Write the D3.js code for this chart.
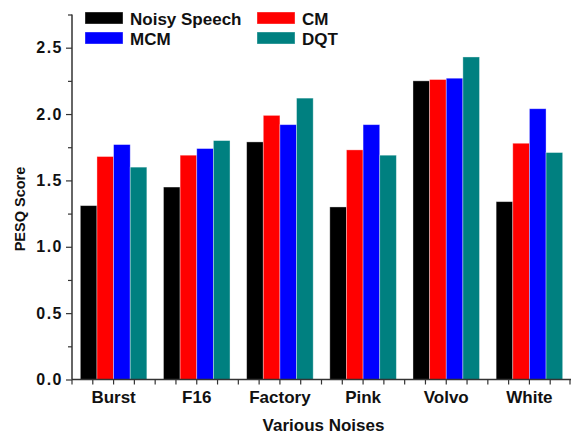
<!DOCTYPE html>
<html>
<head>
<meta charset="utf-8">
<script src="https://cdn.jsdelivr.net/npm/d3@7"></script>
<style>
  body { margin: 0; background: #fff; }
  svg { display: block; font-family: "Liberation Sans", Arial, sans-serif; font-weight: bold; }
</style>
</head>
<body>
<svg id="chart" width="571" height="434"></svg>
<script>
const categories = ["Burst", "F16", "Factory", "Pink", "Volvo", "White"];
const seriesNames = ["Noisy Speech", "CM", "MCM", "DQT"];
const noisySpeech = [1.31, 1.45, 1.79, 1.30, 2.25, 1.34];
const cm          = [1.68, 1.69, 1.99, 1.73, 2.26, 1.78];
const mcm         = [1.77, 1.74, 1.92, 1.92, 2.27, 2.04];
const dqt         = [1.60, 1.80, 2.12, 1.69, 2.43, 1.71];
const yTicks = [0.0, 0.5, 1.0, 1.5, 2.0, 2.5];
const colors = ["#000000", "#ff0000", "#0000ff", "#008080"];

const seriesValues = [noisySpeech, cm, mcm, dqt];

const svg = d3.select("#chart");
const mLeft = 72, mRight = 571, mTop = 14.5, mBottom = 379.5;

const x = d3.scaleBand().domain(categories).range([mLeft, mRight]).paddingInner(0).paddingOuter(0);
const groupW = x.bandwidth() * 0.8;
const xs = d3.scaleBand().domain(seriesNames).range([0, groupW]).padding(0);
const y = d3.scaleLinear().domain([0, 2.75]).range([mBottom, mTop]);

// bars
seriesNames.forEach((s, si) => {
  svg.append("g").selectAll("rect")
    .data(categories.map((c, i) => ({c, v: seriesValues[si][i]})))
    .join("rect")
    .attr("x", d => x(d.c) + (x.bandwidth() - groupW) / 2 + xs(s))
    .attr("y", d => y(d.v))
    .attr("width", xs.bandwidth())
    .attr("height", d => y(0) - y(d.v))
    .attr("fill", colors[si])
    .attr("stroke", "rgba(255,255,255,0.45)")
    .attr("stroke-width", 0.8);
});

const axisColor = "#333";

// y axis
const yAxis = svg.append("g").attr("transform", `translate(${mLeft},0)`)
  .call(d3.axisLeft(y).tickValues(yTicks).tickFormat(d3.format(".1f")).tickSize(6).tickPadding(3));
const yMinor = svg.append("g").attr("transform", `translate(${mLeft},0)`)
  .call(d3.axisLeft(y).tickValues([0.25, 0.75, 1.25, 1.75, 2.25, 2.75]).tickFormat("").tickSize(4));
[yAxis, yMinor].forEach(g => {
  g.select(".domain").attr("stroke", axisColor).attr("stroke-width", 1.5);
  g.selectAll(".tick line").attr("stroke", axisColor).attr("stroke-width", 1.2);
});
yMinor.select(".domain").remove();
yAxis.selectAll(".tick text").attr("font-size", 16).attr("font-weight", "bold")
  .attr("letter-spacing", "1.5px")
  .attr("font-family", "Liberation Sans, Arial, sans-serif").attr("fill", "#111");
yAxis.select(".domain").attr("d", `M0,${mTop}V${mBottom}`);

// x axis
const xAxis = svg.append("g").attr("transform", `translate(0,${mBottom})`)
  .call(d3.axisBottom(x).tickSize(5).tickPadding(6));
xAxis.selectAll(".tick line").remove();
xAxis.select(".domain").attr("d", `M${mLeft},0H${mRight}`).attr("stroke", axisColor).attr("stroke-width", 1.5);
xAxis.selectAll(".tick text").attr("font-size", 17).attr("font-weight", "bold")
  .attr("font-family", "Liberation Sans, Arial, sans-serif").attr("fill", "#111");

// x ticks at quarter band positions
const tickPos = [];
categories.forEach(c => {
  for (let k = 0; k < 4; k++) tickPos.push(x(c) + k * x.bandwidth() / 4);
});
tickPos.push(mRight - 1);
svg.append("g").selectAll("line").data(tickPos).join("line")
  .attr("x1", d => d).attr("x2", d => d)
  .attr("y1", mBottom).attr("y2", mBottom + 5)
  .attr("stroke", axisColor).attr("stroke-width", 1.2);

// axis titles
svg.append("text")
  .attr("x", (mLeft + mRight) / 2 + 2).attr("y", 431)
  .attr("text-anchor", "middle").attr("font-size", 17).attr("fill", "#111")
  .text("Various Noises");
svg.append("text")
  .attr("transform", `translate(25,209) rotate(-90)`)
  .attr("text-anchor", "middle").attr("font-size", 14.5).attr("fill", "#111")
  .text("PESQ Score");

// legend
const legendPos = [[85, 12], [257, 12], [85, 32], [257, 32]];
seriesNames.forEach((s, i) => {
  const [lx, ly] = legendPos[i];
  svg.append("rect").attr("x", lx).attr("y", ly).attr("width", 38).attr("height", 12)
    .attr("fill", colors[i]).attr("stroke", "rgba(255,255,255,0.45)").attr("stroke-width", 0.8);
  svg.append("text").attr("x", lx + 45).attr("y", ly + 12.5)
    .attr("font-size", 17).attr("fill", "#111").text(s);
});
</script>
</body>
</html>
